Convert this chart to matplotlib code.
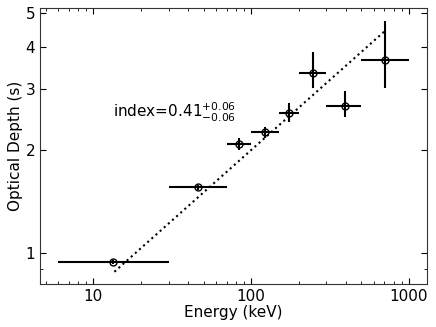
import numpy as np
import matplotlib
matplotlib.use('Agg')
import matplotlib.pyplot as plt

# energy bins (keV) and optical depth
e_lo = [6.0, 30.0, 70.0, 100.0, 150.0, 200.0, 300.0, 500.0]
e_hi = [30.0, 70.0, 100.0, 150.0, 200.0, 300.0, 500.0, 1000.0]
e_c = [13.4, 45.8, 83.4, 123.0, 173.0, 247.0, 391.0, 711.0]
tau = [0.943, 1.554, 2.08, 2.25, 2.56, 3.36, 2.68, 3.66]
tau_lo = [0.93, 1.53, 2.00, 2.17, 2.41, 3.03, 2.49, 3.02]
tau_hi = [0.955, 1.575, 2.16, 2.33, 2.73, 3.85, 2.97, 4.76]

# power-law fit
fit_norm = 0.302
fit_index = 0.41
fit_e = [13.6, 700.0]

fig, ax = plt.subplots(figsize=(4.36, 3.27), dpi=100)
fig.subplots_adjust(left=0.092, right=0.979, top=0.975, bottom=0.132)

e_c = np.array(e_c)
tau = np.array(tau)
xerr = [e_c - np.array(e_lo), np.array(e_hi) - e_c]
yerr = [tau - np.array(tau_lo), np.array(tau_hi) - tau]
ax.errorbar(e_c, tau, xerr=xerr, yerr=yerr, fmt='o', mfc='none', mec='k',
            ms=5, mew=1.0, ecolor='k', elinewidth=1.5, capsize=0, color='k')

fe = np.array(fit_e)
ax.plot(fe, fit_norm * fe ** fit_index, ls=':', color='k', lw=1.5)

ax.text(13.4, 2.57, r'index=0.41$^{+0.06}_{-0.06}$', fontsize=11, va='center')

ax.set_xscale('log')
ax.set_yscale('log')
ax.set_xlim(4.6, 1300)
ax.set_ylim(0.812, 5.18)
ax.set_yticks([1, 2, 3, 4, 5])
ax.set_yticklabels(['1', '2', '3', '4', '5'])
ax.set_yticks([0.9], minor=True)
ax.set_xticks([10, 100, 1000])
ax.set_xticklabels(['10', '100', '1000'])

ax.tick_params(which='both', direction='in', top=True, right=True, labelsize=11)
ax.tick_params(which='major', length=4)
ax.tick_params(which='minor', length=2)
for s in ax.spines.values():
    s.set_color('#333333')

ax.set_xlabel('Energy (keV)', fontsize=11, labelpad=1)
ax.set_ylabel('Optical Depth (s)', fontsize=11, labelpad=2)

fig.savefig('out.png', dpi=100)
